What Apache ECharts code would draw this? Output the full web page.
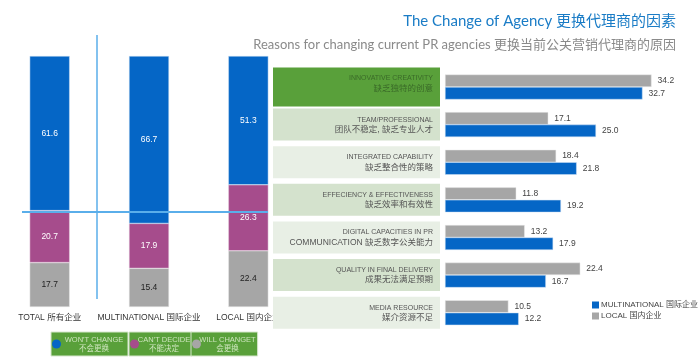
<!DOCTYPE html>
<html>
<head>
<meta charset="utf-8">
<script src="https://cdn.jsdelivr.net/npm/echarts@6/dist/echarts.min.js"></script>
<style>
html,body{margin:0;padding:0;background:#fff;}
#chart{width:700px;height:357px;}
</style>
</head>
<body>
<div id="chart"></div>
<script>
// ---- data ----
var groupCategories = ['TOTAL 所有企业', 'MULTINATIONAL 国际企业', 'LOCAL 国内企业'];
var wontChange = [61.6, 66.7, 51.3];
var cantDecide = [20.7, 17.9, 26.3];
var willChange = [17.7, 15.4, 22.4];
var stackNames = ["WON'T CHANGE\n不会更换", "CAN'T DECIDE\n不能决定", "WILL CHANGET\n会更换"];

var reasonEn = ['INNOVATIVE CREATIVITY', 'TEAM/PROFESSIONAL', 'INTEGRATED CAPABILITY',
  'EFFECIENCY & EFFECTIVENESS', 'DIGITAL CAPACITIES IN PR', 'QUALITY IN FINAL DELIVERY', 'MEDIA RESOURCE'];
var reasonZh = ['缺乏独特的创意', '团队不稳定, 缺乏专业人才', '缺乏整合性的策略',
  '缺乏效率和有效性', 'COMMUNICATION 缺乏数字公关能力', '成果无法满足预期', '媒介资源不足'];
var localValues = [34.2, 17.1, 18.4, 11.8, 13.2, 22.4, 10.5];
var multiValues = [32.7, 25.0, 21.8, 19.2, 17.9, 16.7, 12.2];
var seriesNamesRight = ['MULTINATIONAL 国际企业', 'LOCAL 国内企业'];

// ---- styling ----
var BLUE = '#0566c6', PURPLE = '#a64c8c', GRAY = '#a6a6a6';
var GREEN = '#59a03a', ROW_A = '#d4e2cd', ROW_B = '#e8efe5';
var FONT = '"Liberation Sans","Noto Sans CJK SC",sans-serif';
var TFONT = 'Lato,"Noto Sans CJK SC",sans-serif';

var reasonData = reasonEn.map(function (en, i) {
  var bg = i === 0 ? GREEN : (i % 2 === 1 ? ROW_A : ROW_B);
  var pad = i === 0 ? [6, 7, 13, 2] : [6, 7, 6, 2];
  return {
    value: en + '\n' + reasonZh[i],
    textStyle: {
      backgroundColor: bg,
      padding: pad,
      color: i === 0 ? '#3a6a28' : '#555'
    }
  };
});

var chart = echarts.init(document.getElementById('chart'), null, {renderer: 'canvas'});

function legendBox(name, left, textWidth) {
  return {
    data: [name],
    left: left, top: 332,
    orient: 'horizontal',
    icon: 'circle',
    itemWidth: 9, itemHeight: 9, itemGap: 0,
    padding: [3, 2, 3, 1],
    backgroundColor: GREEN,
    borderColor: '#d6e6cc',
    borderWidth: 1,
    borderRadius: 0,
    selectedMode: false,
    itemStyle: {borderWidth: 0},
    formatter: function (n) {
      return n.split('\n').map(function (s) { return '{c|' + s + '}'; }).join('\n');
    },
    textStyle: {
      color: '#cde5bd', fontSize: 7.5, lineHeight: 9, fontFamily: FONT, padding: [0, 0, 0, -4],
      rich: {c: {width: textWidth, align: 'center', color: '#cde5bd', fontSize: 7.5, lineHeight: 9, fontFamily: FONT}}
    }
  };
}

var option = {
  animation: false,
  backgroundColor: '#fff',
  textStyle: {fontFamily: FONT},
  title: [
    {
      text: 'The Change of Agency 更换代理商的因素',
      right: 19, top: 9,
      textStyle: {color: '#1a7cc6', fontSize: 15, fontWeight: 'normal', fontFamily: TFONT}
    },
    {
      text: 'Reasons for changing current PR agencies 更换当前公关营销代理商的原因',
      right: 19, top: 33,
      textStyle: {color: '#8a8a8a', fontSize: 13, fontWeight: 'normal', fontFamily: TFONT}
    }
  ],
  legend: [
    legendBox(stackNames[0], 51, 64),
    legendBox(stackNames[1], 129, 48),
    legendBox(stackNames[2], 191, 51),
    {
      data: seriesNamesRight,
      left: 592, top: 301,
      orient: 'vertical',
      icon: 'rect',
      itemWidth: 7, itemHeight: 7, itemGap: 3,
      padding: 0,
      selectedMode: false,
      itemStyle: {borderWidth: 0},
      textStyle: {color: '#444', fontSize: 8, fontFamily: FONT, padding: [0, 0, 0, -3]}
    }
  ],
  grid: [
    {left: -3, width: 301, top: 56, height: 251},
    {left: 445, width: 241.6, top: 68.2, height: 263.3}
  ],
  xAxis: [
    {
      gridIndex: 0, type: 'category', data: groupCategories, z: 0,
      axisLine: {show: false}, axisTick: {show: false},
      axisLabel: {color: '#333', fontSize: 8.5, margin: 6, interval: 0, fontFamily: FONT}
    },
    {
      gridIndex: 1, type: 'value', min: 0, max: 40, show: false
    }
  ],
  yAxis: [
    {gridIndex: 0, type: 'value', min: 0, max: 100, show: false},
    {
      gridIndex: 1, type: 'category', inverse: true, data: reasonData, z: 5,
      axisLine: {show: false}, axisTick: {show: false},
      axisLabel: {
        margin: 5, width: 158, align: 'right', lineHeight: 10, interval: 0,
        fontSize: 7.5, fontFamily: FONT, overflow: 'none',
        formatter: function (v) {
          var p = v.split('\n');
          return '{en|' + p[0] + '}\n{zh|' + p[1] + '}';
        },
        rich: {
          en: {fontSize: 7, lineHeight: 10, fontFamily: FONT, align: 'right'},
          zh: {fontSize: 8.5, lineHeight: 10, fontFamily: FONT, align: 'right'}
        }
      }
    }
  ],
  series: [
    {
      name: stackNames[2], type: 'bar', stack: 'total', xAxisIndex: 0, yAxisIndex: 0,
      data: willChange, barWidth: 40,
      itemStyle: {color: GRAY, borderColor: '#e6e6e6', borderWidth: 0.5},
      label: {show: true, position: 'inside', color: '#222', fontSize: 8.5, fontFamily: FONT}
    },
    {
      name: stackNames[1], type: 'bar', stack: 'total', xAxisIndex: 0, yAxisIndex: 0,
      data: cantDecide, barWidth: 40,
      itemStyle: {color: PURPLE, borderColor: '#e6d0e0', borderWidth: 0.5},
      label: {show: true, position: 'inside', color: '#fff', fontSize: 8.5, fontFamily: FONT}
    },
    {
      name: stackNames[0], type: 'bar', stack: 'total', xAxisIndex: 0, yAxisIndex: 0,
      data: wontChange, barWidth: 40,
      itemStyle: {color: BLUE, borderColor: '#cfe0f5', borderWidth: 0.5},
      label: {show: true, position: 'inside', color: '#fff', fontSize: 8.5, fontFamily: FONT}
    },
    {
      name: seriesNamesRight[1], type: 'bar', xAxisIndex: 1, yAxisIndex: 1,
      data: localValues, barWidth: 12.5, barGap: '0%',
      itemStyle: {color: GRAY, borderColor: '#ececec', borderWidth: 0.5},
      label: {show: true, position: 'right', color: '#444', fontSize: 8.5, distance: 6, fontFamily: FONT,
        formatter: function (p) { return p.value.toFixed(1); }}
    },
    {
      name: seriesNamesRight[0], type: 'bar', xAxisIndex: 1, yAxisIndex: 1,
      data: multiValues, barWidth: 12.5, barGap: '0%',
      itemStyle: {color: BLUE, borderColor: '#cfe0f5', borderWidth: 0.5},
      label: {show: true, position: 'right', color: '#444', fontSize: 8.5, distance: 6, fontFamily: FONT,
        formatter: function (p) { return p.value.toFixed(1); }}
    }
  ],
  graphic: [
    {type: 'line', z: 100, shape: {x1: 22, y1: 212, x2: 268, y2: 212},
      style: {stroke: '#5aaeea', lineWidth: 2}},
    {type: 'line', z: 100, shape: {x1: 97, y1: 35, x2: 97, y2: 299},
      style: {stroke: '#5aaeea', lineWidth: 1.5}}
  ]
};
chart.setOption(option);
</script>
</body>
</html>
